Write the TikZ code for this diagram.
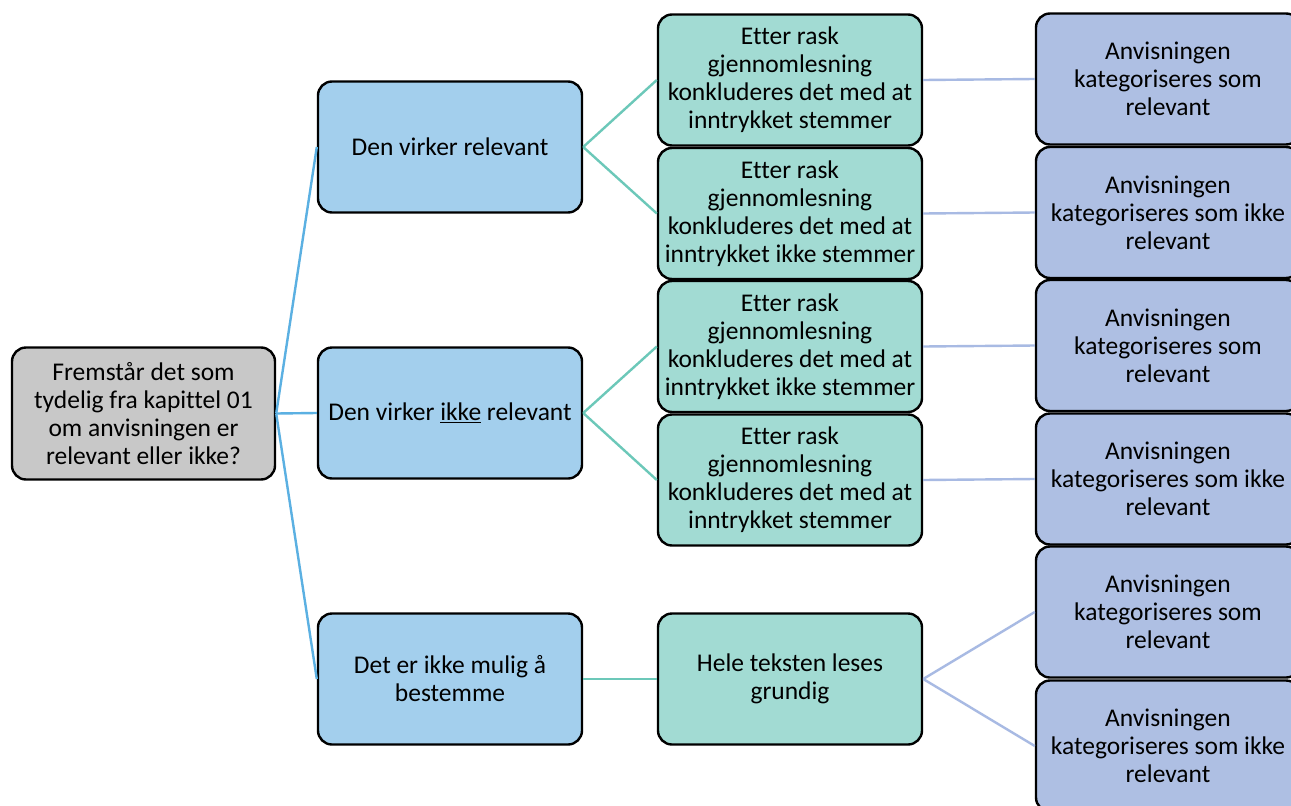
\documentclass[tikz,border=0pt]{standalone}
\usepackage{fontspec}
\setmainfont{Carlito}[RawFeature=-liga]
\definecolor{rootfill}{HTML}{C8C8C8}
\definecolor{lvlone}{HTML}{A3CFED}
\definecolor{lvltwo}{HTML}{A2DBD3}
\definecolor{lvlthree}{HTML}{AEBFE3}
\definecolor{lineone}{HTML}{5BB0E2}
\definecolor{linetwo}{HTML}{6CC8B9}
\definecolor{linethree}{HTML}{A8BAE3}
\tikzset{
  box/.style={draw=black, line width=2.4pt, rounded corners=14pt, rectangle,
    minimum width=264pt, minimum height=131pt, inner sep=0pt, align=center,
    font=\fontsize{25.5pt}{28pt}\selectfont},
  rootbox/.style={box, fill=rootfill, minimum width=263pt, minimum height=132pt},
  onebox/.style={box, fill=lvlone},
  twobox/.style={box, fill=lvltwo},
  threebox/.style={box, fill=lvlthree},
  conone/.style={lineone, line width=2.4pt},
  contwo/.style={linetwo, line width=2.4pt},
  conthree/.style={linethree, line width=2.4pt}
}
\begin{document}
\begin{tikzpicture}[x=1pt,y=-1pt]
\useasboundingbox (0,0) rectangle (1291,806);
\clip (0,0) rectangle (1291,806);
\fill[white] (0,0) rectangle (1291,806);
% root
\node[rootbox] (root) at (143.5,413.5) {Fremstår det som\\tydelig fra kapittel 01\\om anvisningen er\\relevant eller ikke?};
% level 1
\node[onebox] (a1) at (450,147) {Den virker relevant};
\node[onebox] (a2) at (450,413) {Den virker \underline{ikke} relevant};
\node[onebox] (a3) at (450,679) {Det er ikke mulig å\\bestemme};
% level 2
\node[twobox] (b1) at (790,80) {Etter rask\\gjennomlesning\\konkluderes det med at\\inntrykket stemmer};
\node[twobox] (b2) at (790,213.5) {Etter rask\\gjennomlesning\\konkluderes det med at\\inntrykket ikke stemmer};
\node[twobox] (b3) at (790,346.5) {Etter rask\\gjennomlesning\\konkluderes det med at\\inntrykket ikke stemmer};
\node[twobox] (b4) at (790,480) {Etter rask\\gjennomlesning\\konkluderes det med at\\inntrykket stemmer};
\node[twobox] (b5) at (790,679) {Hele teksten leses\\grundig};
% level 3
\node[threebox] (c1) at (1168,79) {Anvisningen\\kategoriseres som\\relevant};
\node[threebox] (c2) at (1168,212.5) {Anvisningen\\kategoriseres som ikke\\relevant};
\node[threebox] (c3) at (1168,345.5) {Anvisningen\\kategoriseres som\\relevant};
\node[threebox] (c4) at (1168,479) {Anvisningen\\kategoriseres som ikke\\relevant};
\node[threebox] (c5) at (1168,612) {Anvisningen\\kategoriseres som\\relevant};
\node[threebox] (c6) at (1168,746) {Anvisningen\\kategoriseres som ikke\\relevant};
% connectors
\draw[conone] (root.east) -- (a1.west);
\draw[conone] (root.east) -- (a2.west);
\draw[conone] (root.east) -- (a3.west);
\draw[contwo] (a1.east) -- (b1.west);
\draw[contwo] (a1.east) -- (b2.west);
\draw[contwo] (a2.east) -- (b3.west);
\draw[contwo] (a2.east) -- (b4.west);
\draw[contwo] (a3.east) -- (b5.west);
\draw[conthree] (b1.east) -- (c1.west);
\draw[conthree] (b2.east) -- (c2.west);
\draw[conthree] (b3.east) -- (c3.west);
\draw[conthree] (b4.east) -- (c4.west);
\draw[conthree] (b5.east) -- (c5.west);
\draw[conthree] (b5.east) -- (c6.west);
\end{tikzpicture}
\end{document}
